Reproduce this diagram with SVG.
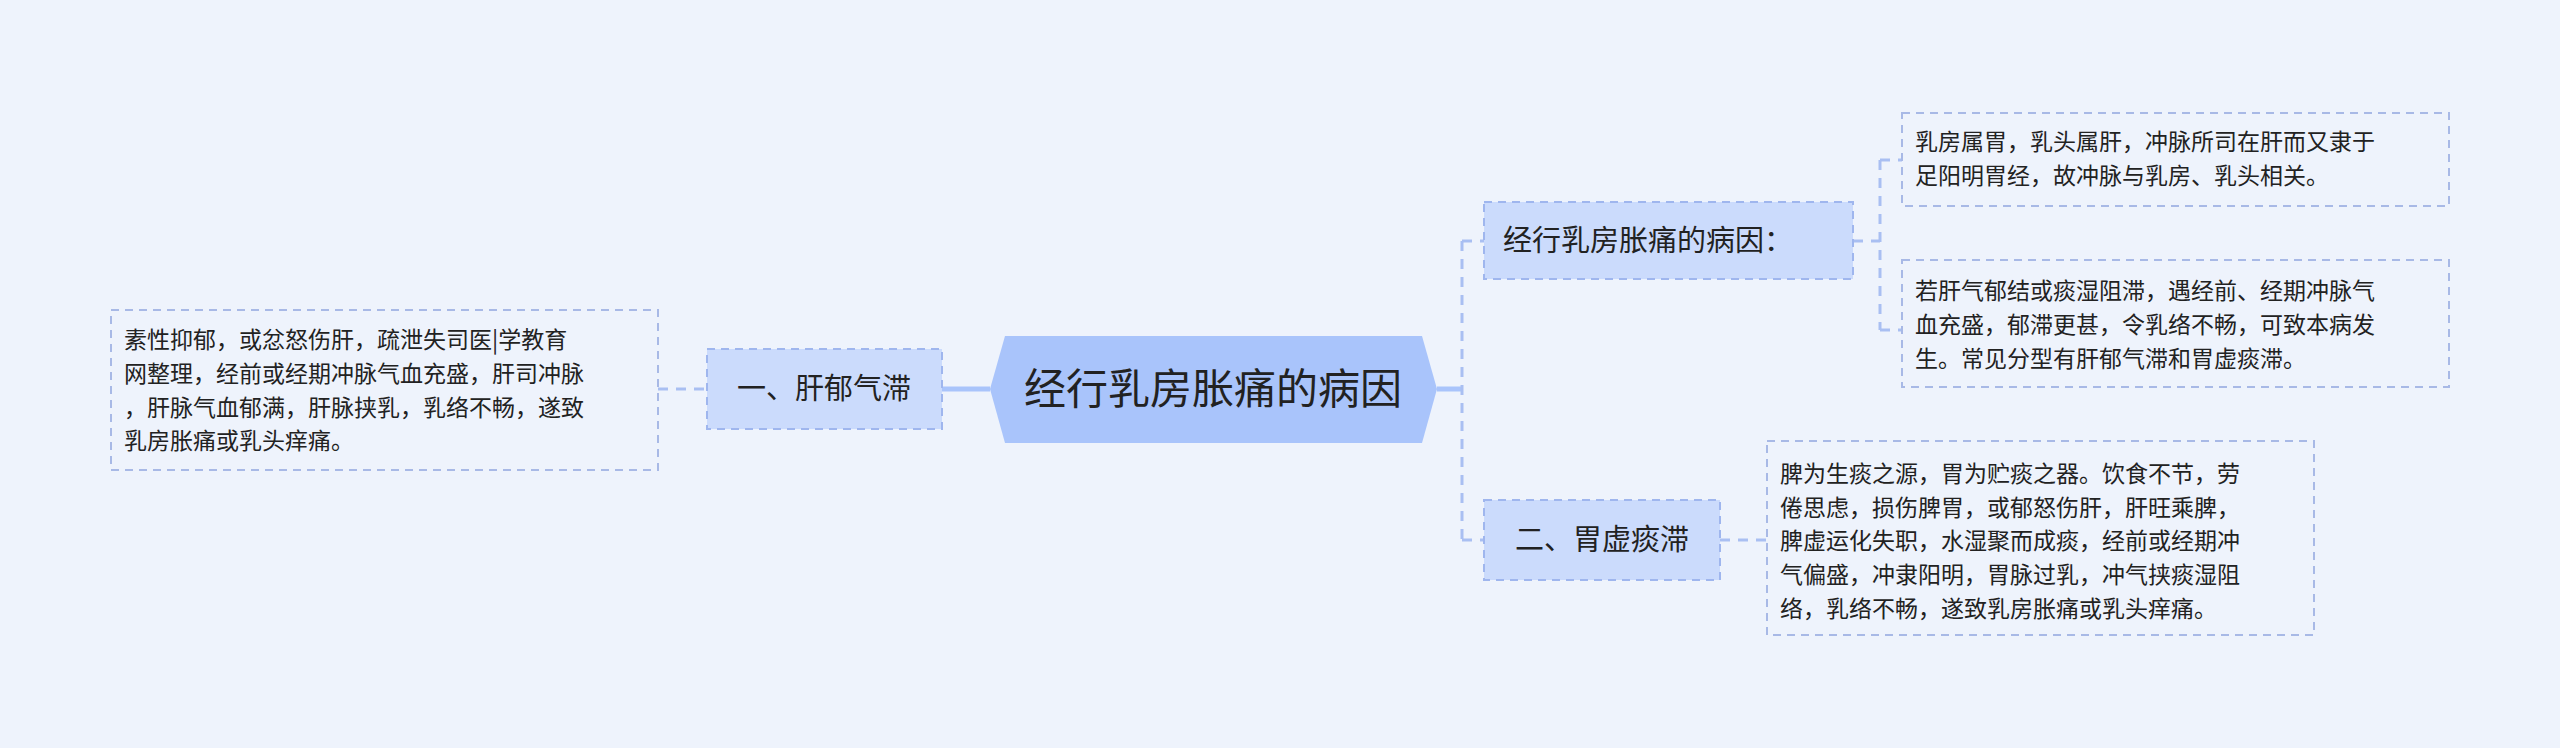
<svg xmlns="http://www.w3.org/2000/svg" width="2560" height="748" viewBox="0 0 2560 748">
<style>
text{font-family:"Noto Sans CJK SC","Liberation Sans",sans-serif;fill:#222;}
.leaf{fill:#eef3fc;stroke:#a8b9e6;stroke-width:2;stroke-dasharray:8 6;}
.br{fill:#cbdbfc;stroke:#9fb6ee;stroke-width:2;stroke-dasharray:8 6;}
.lt{font-size:23px;}
.bt{font-size:29px;}
.dc{fill:none;stroke:#a9bff2;stroke-width:3;stroke-dasharray:10 8;}
.sc{fill:none;stroke:#a9c4fb;stroke-width:5;}
</style>
<rect width="2560" height="748" fill="#eef3fc"/>
<g id="connectors">
<path class="sc" d="M942 389H990"/>
<path class="dc" d="M658 389H707"/>
<path class="sc" d="M1437 389H1462"/>
<path class="dc" d="M1462 241V540M1462 241H1484M1462 540H1484"/>
<path class="dc" d="M1853 241H1880M1880 160V330M1880 160H1902M1880 330H1902"/>
<path class="dc" d="M1720 540H1767"/>
</g>
<g id="root">
<polygon points="1005,336 1422,336 1437,389 1422,443 1005,443 990,389" fill="#a9c4fb"/>
<text x="1213" y="404" font-size="42" text-anchor="middle">经行乳房胀痛的病因</text>
</g>
<g id="n1">
<rect class="br" x="707" y="349" width="235" height="80"/>
<text class="bt" x="824" y="399" text-anchor="middle">一、肝郁气滞</text>
</g>
<g id="n1leaf">
<rect class="leaf" x="111" y="310" width="547" height="160"/>
<text class="lt" x="124" y="348">素性抑郁，或忿怒伤肝，疏泄失司医|学教育</text>
<text class="lt" x="124" y="382">网整理，经前或经期冲脉气血充盛，肝司冲脉</text>
<text class="lt" x="124" y="416">，肝脉气血郁满，肝脉挟乳，乳络不畅，遂致</text>
<text class="lt" x="124" y="449">乳房胀痛或乳头痒痛。</text>
</g>
<g id="n2">
<rect class="br" x="1484" y="202" width="369" height="77"/>
<text class="bt" x="1503" y="251">经行乳房胀痛的病因：</text>
</g>
<g id="n2a">
<rect class="leaf" x="1902" y="113" width="547" height="93"/>
<text class="lt" x="1915" y="150">乳房属胃，乳头属肝，冲脉所司在肝而又隶于</text>
<text class="lt" x="1915" y="184">足阳明胃经，故冲脉与乳房、乳头相关。</text>
</g>
<g id="n2b">
<rect class="leaf" x="1902" y="260" width="547" height="127"/>
<text class="lt" x="1915" y="299">若肝气郁结或痰湿阻滞，遇经前、经期冲脉气</text>
<text class="lt" x="1915" y="333">血充盛，郁滞更甚，令乳络不畅，可致本病发</text>
<text class="lt" x="1915" y="367">生。常见分型有肝郁气滞和胃虚痰滞。</text>
</g>
<g id="n3">
<rect class="br" x="1484" y="500" width="236" height="80"/>
<text class="bt" x="1602" y="550" text-anchor="middle">二、胃虚痰滞</text>
</g>
<g id="n3leaf">
<rect class="leaf" x="1767" y="441" width="547" height="194"/>
<text class="lt" x="1780" y="482">脾为生痰之源，胃为贮痰之器。饮食不节，劳</text>
<text class="lt" x="1780" y="516">倦思虑，损伤脾胃，或郁怒伤肝，肝旺乘脾，</text>
<text class="lt" x="1780" y="549">脾虚运化失职，水湿聚而成痰，经前或经期冲</text>
<text class="lt" x="1780" y="583">气偏盛，冲隶阳明，胃脉过乳，冲气挟痰湿阻</text>
<text class="lt" x="1780" y="617">络，乳络不畅，遂致乳房胀痛或乳头痒痛。</text>
</g>
</svg>
